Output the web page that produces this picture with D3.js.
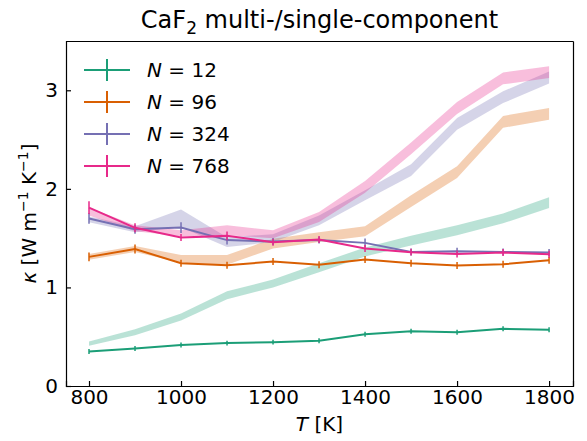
<!DOCTYPE html>
<html>
<head>
<meta charset="utf-8">
<script src="https://cdn.jsdelivr.net/npm/d3@7"></script>
<style>
  body { margin: 0; background: #fff; }
  text { font-family: "DejaVu Sans", sans-serif; }
</style>
</head>
<body>
<div id="chart"></div>
<script>
// temperaturas
const temps = [800, 900, 1000, 1100, 1200, 1300, 1400, 1500, 1600, 1700, 1800];
const sizes = [12, 96, 324, 768];
const colors = ["#1b9e77", "#d95f02", "#7570b3", "#e7298a"];

// multi-component (linha com barras de erro)
const multi12 = [0.35, 0.38, 0.415, 0.435, 0.445, 0.46, 0.525, 0.555, 0.545, 0.58, 0.57];
const multi96 = [1.31, 1.39, 1.245, 1.225, 1.263, 1.23, 1.284, 1.245, 1.222, 1.235, 1.275];
const multi324 = [1.70, 1.59, 1.607, 1.48, 1.466, 1.48, 1.452, 1.36, 1.368, 1.36, 1.355];
const multi768 = [1.81, 1.605, 1.507, 1.523, 1.459, 1.486, 1.395, 1.358, 1.34, 1.355, 1.337];
const err12 = [0.01, 0.01, 0.01, 0.01, 0.01, 0.01, 0.01, 0.01, 0.01, 0.01, 0.01];
const err96 = [0.03, 0.03, 0.02, 0.02, 0.02, 0.02, 0.02, 0.02, 0.02, 0.02, 0.02];
const err324 = [0.04, 0.03, 0.04, 0.03, 0.02, 0.02, 0.03, 0.02, 0.02, 0.02, 0.02];
const err768 = [0.05, 0.03, 0.02, 0.03, 0.02, 0.02, 0.02, 0.02, 0.02, 0.02, 0.02];

// single-component (faixa sombreada)
const single12 = [0.43, 0.545, 0.70, 0.92, 1.04, 1.20, 1.36, 1.475, 1.58, 1.70, 1.86];
const single96 = [1.31, 1.39, 1.29, 1.28, 1.445, 1.51, 1.57, 1.875, 2.17, 2.68, 2.76];
const single324 = [1.69, 1.59, 1.70, 1.46, 1.50, 1.68, 1.935, 2.19, 2.66, 2.93, 3.13];
const single768 = [1.77, 1.60, 1.55, 1.58, 1.54, 1.715, 2.02, 2.41, 2.82, 3.12, 3.185];
const band12 = [0.022, 0.03, 0.035, 0.04, 0.04, 0.045, 0.045, 0.05, 0.05, 0.05, 0.055];
const band96 = [0.03, 0.03, 0.04, 0.05, 0.05, 0.05, 0.05, 0.06, 0.06, 0.06, 0.06];
const band324 = [0.03, 0.03, 0.09, 0.05, 0.04, 0.05, 0.05, 0.06, 0.06, 0.06, 0.06];
const band768 = [0.04, 0.03, 0.03, 0.05, 0.04, 0.05, 0.06, 0.06, 0.06, 0.06, 0.06];

const xTicks = [800, 1000, 1200, 1400, 1600, 1800];
const yTicks = [0, 1, 2, 3];

const multi = [multi12, multi96, multi324, multi768];
const errs = [err12, err96, err324, err768];
const single = [single12, single96, single324, single768];
const bands = [band12, band96, band324, band768];

const W = 587, H = 441;
const margin = { top: 41, right: 14, bottom: 55, left: 66 };
const width = W - margin.left - margin.right;
const height = H - margin.top - margin.bottom;
const fs = "20px";

const svg = d3.select("#chart").append("svg")
  .attr("width", W).attr("height", H);

const g = svg.append("g")
  .attr("transform", `translate(${margin.left},${margin.top})`);

const x = d3.scaleLinear().domain([750, 1852]).range([0, width]);
const y = d3.scaleLinear().domain([0, 3.5]).range([height, 0]);

// faixas (single-component)
single.forEach((s, i) => {
  const area = d3.area()
    .x((d, j) => x(temps[j]))
    .y0((d, j) => y(d - bands[i][j]))
    .y1((d, j) => y(d + bands[i][j]));
  g.append("path")
    .datum(s)
    .attr("d", area)
    .attr("fill", colors[i])
    .attr("fill-opacity", 0.3);
});

// linhas (multi-component)
const line = d3.line().x((d, j) => x(temps[j])).y((d) => y(d));
multi.forEach((m, i) => {
  g.append("path")
    .datum(m)
    .attr("d", line)
    .attr("fill", "none")
    .attr("stroke", colors[i])
    .attr("stroke-width", 2);
  g.selectAll(null)
    .data(m)
    .enter()
    .append("line")
    .attr("x1", (d, j) => x(temps[j]))
    .attr("x2", (d, j) => x(temps[j]))
    .attr("y1", (d, j) => y(d - errs[i][j]) + 1.5)
    .attr("y2", (d, j) => y(d + errs[i][j]) - 1.5)
    .attr("stroke", colors[i])
    .attr("stroke-width", 1.5);
});

// eixos
const xAxis = d3.axisBottom(x).tickValues(xTicks).tickSize(-5).tickPadding(4).tickFormat(d3.format("d"));
const yAxis = d3.axisLeft(y).tickValues(yTicks).tickSize(-5).tickPadding(8).tickFormat(d3.format("d"));
const xTop = d3.axisTop(x).tickValues([]).tickSize(0);
const yRight = d3.axisRight(y).tickValues([]).tickSize(0);

function styleAxis(sel) {
  sel.select(".domain").attr("stroke", "#000").attr("stroke-width", 1.2);
  sel.selectAll(".tick line").attr("stroke", "#000").attr("stroke-width", 1.2);
  sel.selectAll(".tick text").style("font-size", fs).attr("fill", "#000")
    .style("font-family", "DejaVu Sans");
}

g.append("g").attr("transform", `translate(0,${height})`).call(xAxis).call(styleAxis);
g.append("g").call(yAxis).call(styleAxis);
g.append("g").call(xTop).call(styleAxis);
g.append("g").attr("transform", `translate(${width},0)`).call(yRight).call(styleAxis);

// titulo
const title = svg.append("text")
  .attr("x", margin.left + width / 2)
  .attr("y", 28)
  .attr("text-anchor", "middle")
  .style("font-size", "24px");
title.append("tspan").text("CaF");
title.append("tspan").text("2").attr("dy", 6).style("font-size", "17px");
title.append("tspan").text(" multi-/single-component").attr("dy", -6);

// rotulos dos eixos
const xl = svg.append("text")
  .attr("x", margin.left + width / 2)
  .attr("y", 431)
  .attr("text-anchor", "middle")
  .style("font-size", fs);
xl.append("tspan").text("T").style("font-style", "italic");
xl.append("tspan").text(" [K]");

const yl = svg.append("text")
  .attr("transform", `translate(36,${margin.top + height / 2}) rotate(-90)`)
  .attr("text-anchor", "middle")
  .style("font-size", fs);
yl.append("tspan").text("κ").style("font-style", "italic");
yl.append("tspan").text(" [W m");
yl.append("tspan").text("−1").attr("dy", -8).style("font-size", "14px");
yl.append("tspan").text(" K").attr("dy", 8);
yl.append("tspan").text("−1").attr("dy", -8).style("font-size", "14px");
yl.append("tspan").text("]").attr("dy", 8);

// legenda
const legend = svg.append("g").attr("transform", `translate(${margin.left + 18},${margin.top + 29})`);
sizes.forEach((n, i) => {
  const row = legend.append("g").attr("transform", `translate(0,${i * 32})`);
  row.append("line").attr("x1", 0).attr("x2", 46).attr("y1", 0).attr("y2", 0)
    .attr("stroke", colors[i]).attr("stroke-width", 2);
  row.append("line").attr("x1", 23).attr("x2", 23).attr("y1", -11).attr("y2", 11)
    .attr("stroke", colors[i]).attr("stroke-width", 2);
  const t = row.append("text").attr("x", 63).attr("y", 7).style("font-size", fs);
  t.append("tspan").text("N").style("font-style", "italic");
  t.append("tspan").text(" = " + n);
});
</script>
</body>
</html>
